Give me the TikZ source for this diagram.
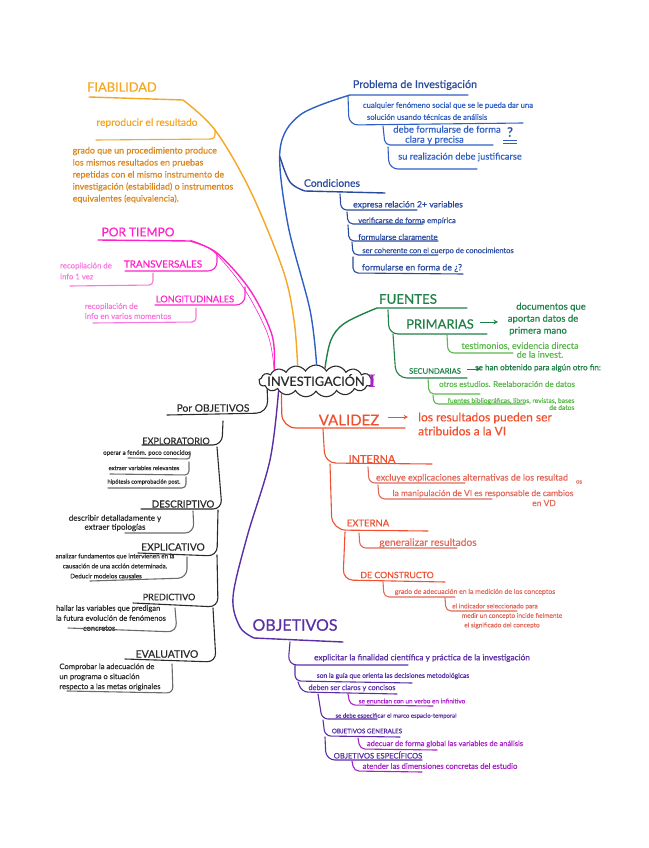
\documentclass[tikz,border=0pt]{standalone}
\usepackage{fontspec}
\setmainfont[RawFeature={embolden=0.5}]{Lato}
\newfontfamily\cursorfont{Liberation Serif}
\usetikzlibrary{shapes.symbols}
\definecolor{naranja}{HTML}{F5A623}
\definecolor{naranjat}{HTML}{D9861E}
\definecolor{rosa}{HTML}{FF22C8}
\definecolor{rosat}{HTML}{F878DC}
\definecolor{azul}{HTML}{2F5FC4}
\definecolor{azulo}{HTML}{2A4A9E}
\definecolor{verde}{HTML}{1F8048}
\definecolor{verdec}{HTML}{5CB84C}
\definecolor{rojo}{HTML}{F0502F}
\definecolor{rojoc}{HTML}{E2685A}
\definecolor{morado}{HTML}{5A2EA6}
\definecolor{moradoc}{HTML}{A81FC8}
\definecolor{negro}{HTML}{2B2B2B}
\tikzset{
  rama/.style={line width=1.1pt,rounded corners=9pt,line cap=round},
  tronco/.style={line width=1.4pt,line cap=round},
  lbl/.style={inner sep=0pt,align=center},
  lblizq/.style={inner sep=0pt,align=left},
  lblder/.style={inner sep=0pt,align=right},
  fs/.style 2 args={font=\fontsize{#1}{#2}\selectfont},
}
\begin{document}
\begin{tikzpicture}[x=1pt,y=-1pt]
\useasboundingbox (0,0) rectangle (648,848);
% centro
\node[cloud,cloud puffs=17,cloud puff arc=120,aspect=3.6,draw=negro,line width=1.1pt,minimum width=114pt,minimum height=32pt,inner sep=0pt] (raiz) at (316,381) {};
\node[lbl,fs={12.8}{13},text=negro] (invest) at (316,380) {INVESTIGACIÓN};
\node[lbl,font=\cursorfont\fontsize{19}{19}\bfseries\selectfont,text=moradoc] (cursor) at (372,381) {I};
% fiabilidad
\node[lbl,fs={12.8}{14},text=naranja] (fiab) at (122,87) {FIABILIDAD};
\node[lbl,fs={10.2}{12},text=naranja] (repro) at (147,123) {reproducir el resultado};
\node[lblizq,fs={8.9}{12},text=naranjat] (grado) at (153,175) {grado que un procedimiento produce\\los mismos resultados en pruebas\\repetidas con el mismo instrumento de\\investigación (estabilidad) o instrumentos\\equivalentes (equivalencia).};
\path (215,130) coordinate (fiabk) (89,97) coordinate (fiabe);
\draw[tronco,naranja] plot[smooth,tension=.55] coordinates {(raiz.140) (294,320) (283,270) (250,190) (215,130) (183,100)} -- (fiabe);
\path (215,139) coordinate (reproc) (96,140) coordinate (reproe);
\draw[rama,naranja,rounded corners=4pt] (fiabk) -- (reproc) -- (reproe);
% por tiempo
\node[lbl,fs={12}{14},text=rosa] (tiempo) at (138,232) {POR TIEMPO};
\node[lbl,fs={9.9}{12},text=rosa] (trans) at (163,264) {TRANSVERSALES};
\node[lblizq,fs={7.8}{11},text=rosat] (unavez) at (86,271) {recopilación de\\info 1 vez};
\node[lbl,fs={9.2}{12},text=rosa] (longi) at (195,299) {LONGITUDINALES};
\node[lblizq,fs={8}{10},text=rosat] (varios) at (128,311) {recopilación de\\info en varios momentos};
\path (98,240) coordinate (tiempoe) (217,253) coordinate (tiempok);
\draw[tronco,rosa] plot[smooth,tension=.55] coordinates {(raiz.165) (272,335) (250,290) (217,253) (190,241)} -- (tiempoe);
\draw[rosa,line width=.6pt] plot[smooth,tension=.55] coordinates {(raiz.165) (268,335) (245,290) (214,252) (190,240)};
\path (217,271) coordinate (transc) (125,271) coordinate (transe);
\draw[rama,rosa] (tiempok) -- (transc) -- (transe);
\path (153,273) coordinate (unavs) (153,285) coordinate (unavc) (70,286) coordinate (unave);
\draw[rama,rosat,rounded corners=4pt] (unavs) -- (unavc) -- (unave);
\path (245,287) coordinate (longis) (245,305) coordinate (longic) (155,305) coordinate (longie);
\draw[rama,rosa] (longis) -- (longic) -- (longie);
\path (196,308) coordinate (varis) (196,322) coordinate (varic) (93,323) coordinate (varie);
\draw[rama,rosat,rounded corners=4pt] (varis) -- (varic) -- (varie);
% problema de investigacion
\node[lbl,fs={10.8}{12},text=azulo] (probl) at (415,85) {Problema de Investigación};
\node[lblizq,fs={7.7}{12},text=azul] (cualq) at (448,111) {cualquier fenómeno social que se le pueda dar una\\\hspace*{4pt}solución usando técnicas de análisis};
\node[lbl,fs={9.5}{10},text=azul] (debe) at (447,135) {debe formularse de forma\\clara y precisa\hspace*{25pt}};
\node[lbl,fs={13}{14},text=azulo] (pregunta) at (510,132) {?};
\node[lbl,fs={9.3}{12},text=azul] (realiz) at (460,157) {su realización debe justificarse};
\path (468,95) coordinate (proble);
\draw[tronco,azul] plot[smooth,tension=.55] coordinates {(raiz.88) (310,310) (288,225) (280,150) (300,115) (350,95)} -- (proble);
\path (348,96) coordinate (cualqs) (349,125) coordinate (cualqc) (523,123) coordinate (cualqe);
\draw[rama,azul] (cualqs) -- (cualqc) -- (cualqe);
\path (383,126) coordinate (debes) (385,145) coordinate (debec) (493,145) coordinate (debee);
\draw[rama,azul,rounded corners=5pt] (debes) -- (debec) -- (debee);
\path (388,147) coordinate (reals) (389,169) coordinate (realc) (477,169) coordinate (reale);
\draw[rama,azul] (reals) -- (realc) -- (reale);
\path (503,140) coordinate (pregi) (517,140) coordinate (pregd) (503,143) coordinate (pregii) (517,143) coordinate (pregdd);
\draw[azul,line width=.7pt] (pregi) -- (pregd) (pregii) -- (pregdd);
% condiciones
\node[lbl,fs={10.4}{12},text=azulo] (condi) at (332,183) {Condiciones};
\node[lbl,fs={8.7}{10},text=azulo] (expr) at (408,205) {expresa relación 2+ variables};
\node[lbl,fs={7.7}{10},text=azulo] (verif) at (407,221) {verificarse de forma empírica};
\node[lbl,fs={8.1}{10},text=azulo] (formc) at (398,237) {formularse claramente};
\node[lbl,fs={7.5}{10},text=azulo] (coher) at (438,251) {ser coherente con el cuerpo de conocimientos};
\node[lbl,fs={8.8}{10},text=azulo] (formp) at (412,268) {formularse en forma de ¿?};
\path (280,157) coordinate (condis) (385,193) coordinate (condie);
\draw[tronco,azulo] plot[smooth,tension=.6] coordinates {(condis) (290,182) (305,191)} -- (condie);
\path (340,194) coordinate (exprs) (341,210) coordinate (exprc) (417,210) coordinate (expre);
\draw[rama,azulo,rounded corners=6pt] (exprs) -- (exprc) -- (expre);
\path (347,212) coordinate (verifs) (348,224) coordinate (verifc) (423,224) coordinate (verife);
\draw[rama,azulo,rounded corners=5pt] (verifs) -- (verifc) -- (verife);
\path (348,225) coordinate (formcs) (349,241) coordinate (formcc) (438,241) coordinate (formce);
\draw[rama,azulo,rounded corners=5pt] (formcs) -- (formcc) -- (formce);
\path (352,242) coordinate (cohers) (353,255) coordinate (coherc) (438,255) coordinate (cohere);
\draw[rama,azulo,rounded corners=5pt] (cohers) -- (coherc) -- (cohere);
\path (353,257) coordinate (formps) (353,273) coordinate (formpc) (463,274) coordinate (formpe);
\draw[rama,azulo,rounded corners=5pt] (formps) -- (formpc) -- (formpe);
% fuentes
\node[lbl,fs={13.3}{14},text=verde] (fuentes) at (408,299) {FUENTES};
\node[lbl,fs={12.9}{14},text=verde] (prim) at (440,324) {PRIMARIAS};
\node[lbl,fs={9.5}{12},text=verde] (docu) at (543,319) {\hspace*{16pt}documentos que\\aportan datos de\\primera mano\hspace*{10pt}};
\node[lbl,fs={9}{7.5},text=verdec] (testi) at (520,350) {testimonios, evidencia directa\\\hspace*{40pt}de la invest.};
\node[lbl,fs={7.6}{9},text=verde] (secun) at (435,371) {SECUNDARIAS};
\node[lbl,fs={8.1}{9},text=verde] (obten) at (538,368) {se han obtenido para algún otro fin:};
\node[lbl,fs={8}{9},text=verdec] (otros) at (507,384) {otros estudios. Reelaboración de datos};
\node[lblder,fs={6.7}{7},text=verdec] (bibl) at (511,404) {fuentes bibliográficas, libros, revistas, bases\\de datos};
\path (467,308) coordinate (fuene);
\draw[tronco,verde] plot[smooth,tension=.6] coordinates {(raiz.55) (331,340) (345,323) (377,308)} -- (fuene);
\path (388,310) coordinate (prims) (389,334) coordinate (primc) (487,334) coordinate (prime);
\draw[rama,verde] (prims) -- (primc) -- (prime);
\path (480,322) coordinate (primfa) (498,322) coordinate (primfb);
\draw[verde,line width=1pt,-stealth] (primfa) -- (primfb);
\path (447,335) coordinate (testis) (448,353) coordinate (testic) (513,353) coordinate (testie);
\draw[rama,verdec,rounded corners=6pt] (testis) -- (testic) -- (testie);
\path (393,334) coordinate (secs) (396,378) coordinate (secc) (467,378) coordinate (sece);
\draw[rama,verde,rounded corners=11pt] (secs) -- (secc) -- (sece);
\path (467,369) coordinate (secfa) (481,369) coordinate (secfb);
\draw[verde,line width=.9pt,-stealth] (secfa) -- (secfb);
\path (428,378) coordinate (otross) (429,394) coordinate (otrosc) (480,394) coordinate (otrose);
\draw[rama,verdec,rounded corners=5pt] (otross) -- (otrosc) -- (otrose);
\path (433,395) coordinate (bibls) (434,404) coordinate (biblc) (525,404) coordinate (bible);
\draw[rama,verdec,rounded corners=4pt] (bibls) -- (biblc) -- (bible);
% validez
\node[lbl,fs={15}{16},text=rojo] (valid) at (349,420) {VALIDEZ};
\node[lblizq,fs={12}{14},text=rojo] (atrib) at (485,424) {los resultados pueden ser\\atribuidos a la VI};
\node[lbl,fs={10.9}{12},text=rojo] (inter) at (372,459) {INTERNA};
\node[lbl,fs={9}{10},text=rojoc] (excl) at (472,478) {excluye explicaciones alternativas de los resultad};
\node[lbl,fs={6}{7},text=rojoc] (excos) at (579,482) {os};
\node[lbl,fs={8.5}{10},text=rojoc] (manip) at (483,498) {la manipulación de VI es responsable de cambios\\\hspace*{122pt}en VD};
\node[lbl,fs={9.5}{11},text=rojo] (exter) at (368,523) {EXTERNA};
\node[lbl,fs={10.2}{11},text=rojoc] (gener) at (428,543) {generalizar resultados};
\node[lbl,fs={8.8}{10},text=rojo] (constr) at (397,575) {DE CONSTRUCTO};
\node[lbl,fs={6.9}{9},text=rojoc] (grad) at (475,592) {grado de adecuación en la medición de los conceptos};
\node[lbl,fs={6.5}{9.5},text=rojoc] (indic) at (512,616) {el indicador seleccionado para\hspace*{34pt}\\medir un concepto incide fielmente\\el significado del concepto\hspace*{20pt}};
\path (282,428) coordinate (validc) (405,428) coordinate (valide);
\draw[rama,rojo,rounded corners=14pt,line width=1.2pt] (raiz.200) -- (validc) -- (valide);
\path (388,417) coordinate (validfa) (408,417) coordinate (validfb);
\draw[rojo,line width=1pt,-stealth] (validfa) -- (validfb);
\path (323,429) coordinate (inters) (325,463) coordinate (interc) (432,464) coordinate (intere);
\draw[rama,rojo,rounded corners=11pt] (inters) -- (interc) -- (intere);
\path (368,467) coordinate (excls) (369,483) coordinate (exclc) (465,483) coordinate (excle);
\draw[rama,rojoc,rounded corners=6pt] (excls) -- (exclc) -- (excle);
\path (378,485) coordinate (manis) (379,499) coordinate (manic) (492,499) coordinate (manie);
\draw[rama,rojoc,rounded corners=6pt] (manis) -- (manic) -- (manie);
\path (330,464) coordinate (exters) (332,530) coordinate (exterc) (428,531) coordinate (extere);
\draw[rama,rojo,rounded corners=14pt] (exters) -- (exterc) -- (extere);
\path (359,533) coordinate (geners) (360,548) coordinate (generc) (457,548) coordinate (genere);
\draw[rama,rojoc,rounded corners=6pt] (geners) -- (generc) -- (genere);
\path (345,532) coordinate (constrs) (343,580) coordinate (constrc) (445,582) coordinate (constre);
\draw[rama,rojo,rounded corners=10pt] (constrs) -- (constrc) -- (constre);
\path (383,582) coordinate (grads) (384,597) coordinate (gradc) (455,597) coordinate (grade);
\draw[rama,rojoc,rounded corners=5pt] (grads) -- (gradc) -- (grade);
\path (445,598) coordinate (indis) (446,611) coordinate (indcc) (517,611) coordinate (indie);
\draw[rama,rojoc,rounded corners=5pt] (indis) -- (indcc) -- (indie);
% por objetivos
\node[lbl,text=negro,fs={10.3}{12}] (porob) at (213,408) {Por OBJETIVOS};
\node[lbl,text=negro,fs={9.1}{10}] (explo) at (176,441) {EXPLORATORIO};
\node[lbl,text=negro,fs={6.2}{8}] (opera) at (147,453) {operar a fenóm. poco conocidos};
\node[lbl,text=negro,fs={5.9}{8}] (extra) at (144,468) {extraer variables relevantes};
\node[lbl,text=negro,fs={5.7}{8}] (hipot) at (144,482) {hipótesis comprobación post.};
\node[lbl,text=negro,fs={9.8}{10}] (descr) at (183,504) {DESCRIPTIVO};
\node[lbl,text=negro,fs={8}{9}] (descri) at (115,523) {describir detalladamente y\\extraer tipologías};
\node[lbl,text=negro,fs={10.2}{11}] (expli) at (173,547) {EXPLICATIVO};
\node[lbl,text=negro,fs={6.3}{10}] (analiz) at (115,566) {analizar fundamentos que intervienen en la\\causación de una acción determinada.\\Deducir modelos causales\hspace*{18pt}};
\node[lbl,text=negro,fs={9}{10}] (predi) at (169,597) {PREDICTIVO};
\node[lblizq,text=negro,fs={7.5}{10}] (hallar) at (111,618) {hallar las variables que predigan\\la futura evolución de fenómenos\\\hspace*{27pt}concretos};
\node[lbl,text=negro,fs={10.4}{11}] (evalu) at (167,654) {EVALUATIVO};
\node[lblizq,text=negro,fs={7.6}{10}] (compr) at (110,677) {Comprobar la adecuación de\\un programa o situación\\respecto a las metas originales};
\path (268,413) coordinate (porobc) (167,415) coordinate (porobe);
\draw[rama,negro,rounded corners=12pt] (raiz.190) -- (porobc) -- (porobe);
\path (223,421) coordinate (explos) (222,445) coordinate (exploc) (142,445) coordinate (exploe);
\draw[rama,negro] (explos) -- (exploc) -- (exploe);
\path (190,452) coordinate (operas) (190,459) coordinate (operac) (128,458) coordinate (operae);
\draw[rama,negro!70,rounded corners=3pt] (operas) -- (operac) -- (operae);
\path (189,462) coordinate (extras) (189,475) coordinate (extrac) (110,474) coordinate (extrae);
\draw[rama,negro!70,rounded corners=4pt] (extras) -- (extrac) -- (extrae);
\path (186,477) coordinate (hipos) (186,488) coordinate (hipoc) (108,488) coordinate (hipoe);
\draw[rama,negro!70,rounded corners=4pt] (hipos) -- (hipoc) -- (hipoe);
\path (217,447) coordinate (descrs) (222,509) coordinate (descrc) (141,509) coordinate (descre);
\draw[rama,negro] (descrs) -- (descrc) -- (descre);
\path (193,511) coordinate (descris) (194,533) coordinate (descric) (125,533) coordinate (descrie);
\draw[rama,negro!70] (descris) -- (descric) -- (descrie);
\path (218,510) coordinate (explis) (217,556) coordinate (explicc) (138,553) coordinate (explie);
\draw[rama,negro] (explis) -- (explicc) -- (explie);
\path (187,557) coordinate (anas) (187,578) coordinate (anac) (90,581) coordinate (anae);
\draw[rama,negro!70] (anas) -- (anac) -- (anae);
\path (217,555) coordinate (predis) (218,607) coordinate (predic) (133,603) coordinate (predie);
\draw[rama,negro] (predis) -- (predic) -- (predie);
\path (175,608) coordinate (halls) (177,632) coordinate (hallc) (68,628) coordinate (halle);
\draw[rama,negro!70] (halls) -- (hallc) -- (halle);
\path (213,608) coordinate (evals) (216,662) coordinate (evalc) (125,659) coordinate (evale);
\draw[rama,negro] (evals) -- (evalc) -- (evale);
\path (172,664) coordinate (comps) (173,693) coordinate (compc) (67,691) coordinate (compe);
\draw[rama,negro!70,rounded corners=6pt] (comps) -- (compc) -- (compe);
% objetivos
\node[lbl,text=morado,fs={16}{17}] (objet) at (295,625) {OBJETIVOS};
\node[lbl,fs={8.3}{10},text=morado] (explicit) at (422,658) {explicitar la finalidad científica y práctica de la investigación};
\node[lbl,fs={6.7}{10},text=morado] (guia) at (393,676) {son la guía que orienta las decisiones metodológicas};
\node[lbl,fs={7.3}{10},text=morado] (claros) at (352,688) {deben ser claros y concisos};
\node[lbl,fs={6.4}{8},text=moradoc] (enunc) at (412,701) {se enuncian con un verbo en infinitivo};
\node[lbl,fs={6}{10},text=morado] (marco) at (396,716) {se debe especificar el marco espacio-temporal};
\node[lbl,fs={6.3}{8},text=morado] (ogen) at (367,731) {OBJETIVOS GENERALES};
\node[lbl,fs={7.5}{10},text=moradoc] (adec) at (445,744) {adecuar de forma global las variables de análisis};
\node[lbl,fs={7.6}{10},text=morado] (oesp) at (378,755) {OBJETIVOS ESPECÍFICOS};
\node[lbl,fs={7.7}{10},text=moradoc] (atend) at (440,766) {atender las dimensiones concretas del estudio};
\path (343,642) coordinate (objete);
\draw[tronco,morado] plot[smooth,tension=.55] coordinates {(raiz.195) (270,460) (247,537) (233,597) (240,627) (254,638)} -- (objete);
\path (290,642) coordinate (expls) (288,665) coordinate (explc) (408,665) coordinate (exple);
\draw[rama,morado] (expls) -- (explc) -- (exple);
\path (295,665) coordinate (guias) (295,681) coordinate (guiac) (412,683) coordinate (guiae);
\draw[rama,morado,rounded corners=6pt] (guias) -- (guiac) -- (guiae);
\path (298,682) coordinate (clars) (302,692) coordinate (clarc) (397,694) coordinate (clare);
\draw[rama,morado,rounded corners=6pt] (clars) -- (clarc) -- (clare);
\path (348,694) coordinate (enuns) (350,705) coordinate (enucc) (433,706) coordinate (enune);
\draw[rama,moradoc,rounded corners=5pt] (enuns) -- (enucc) -- (enune);
\path (318,694) coordinate (marcs) (322,719) coordinate (marcc) (377,719) coordinate (marce);
\draw[rama,morado,rounded corners=6pt] (marcs) -- (marcc) -- (marce);
\path (323,720) coordinate (ogens) (325,736) coordinate (ogenc) (400,737) coordinate (ogene);
\draw[rama,morado,rounded corners=6pt] (ogens) -- (ogenc) -- (ogene);
\path (358,738) coordinate (adecs) (360,749) coordinate (adecc) (437,750) coordinate (adece);
\draw[rama,moradoc,rounded corners=5pt] (adecs) -- (adecc) -- (adece);
\path (325,737) coordinate (oesps) (326,760) coordinate (oespc) (422,760) coordinate (oespe);
\draw[rama,morado] (oesps) -- (oespc) -- (oespe);
\path (352,761) coordinate (atens) (354,771) coordinate (atenc) (422,772) coordinate (atene);
\draw[rama,moradoc,rounded corners=5pt] (atens) -- (atenc) -- (atene);
\end{tikzpicture}
\end{document}
